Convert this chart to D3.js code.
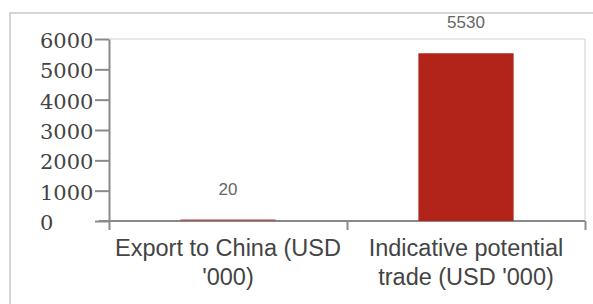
<!DOCTYPE html>
<html>
<head>
<meta charset="utf-8">
<script src="https://cdn.jsdelivr.net/npm/d3@7"></script>
<style>
  body { margin: 0; background: #fff; }
</style>
</head>
<body>
<div id="wrapper"></div>
<script>
const categories = ["Export to China (USD '000)", "Indicative potential trade (USD '000)"];
const labelLines = [["Export to China (USD", "'000)"], ["Indicative potential", "trade (USD '000)"]];
const values = [20, 5530];
const yTicks = [0, 1000, 2000, 3000, 4000, 5000, 6000];

function drawChart() {
  let dimensions = {
    width: 593,
    height: 304,
    margin: { top: 39, left: 109, bottom: 83, right: 8 }
  };
  dimensions.boundedWidth = dimensions.width - dimensions.margin.left - dimensions.margin.right;
  dimensions.boundedHeight = dimensions.height - dimensions.margin.top - dimensions.margin.bottom;

  const svg = d3.select("#wrapper").append("svg")
    .attr("width", dimensions.width)
    .attr("height", dimensions.height);

  // outer frame
  svg.append("rect")
    .attr("x", 10).attr("y", 13)
    .attr("width", 620).attr("height", 320)
    .attr("fill", "none").attr("stroke", "#c8c8c8").attr("stroke-width", 1.5);

  const g = svg.append("g")
    .attr("transform", `translate(${dimensions.margin.left},${dimensions.margin.top})`);

  const xScale = d3.scaleBand()
    .domain(categories)
    .range([0, dimensions.boundedWidth])
    .paddingInner(0.6)
    .paddingOuter(0.3);

  const yScale = d3.scaleLinear()
    .domain([0, 6000])
    .range([dimensions.boundedHeight, 0]);

  // plot border (top + right)
  g.append("path")
    .attr("d", `M0,0H${dimensions.boundedWidth}V${dimensions.boundedHeight}`)
    .attr("fill", "none").attr("stroke", "#cfcfcf").attr("stroke-width", 1);

  // y axis
  const yAxis = g.append("g")
    .call(d3.axisLeft(yScale).tickValues(yTicks).tickSize(14).tickSizeOuter(0).tickFormat(d3.format("d")));
  yAxis.select(".domain").attr("stroke", "#8a8a8a").attr("stroke-width", 2);
  yAxis.selectAll(".tick line").attr("stroke", "#8a8a8a").attr("stroke-width", 2);
  yAxis.selectAll(".tick text")
    .attr("x", -69)
    .attr("dy", "0.4em")
    .attr("text-anchor", "start")
    .attr("font-family", "DejaVu Serif, serif")
    .attr("font-size", 21)
    .attr("fill", "#444");

  // x axis (ticks at band edges)
  const edgeScale = d3.scaleLinear().domain([0, categories.length]).range([0, dimensions.boundedWidth]);
  const xAxis = g.append("g")
    .attr("transform", `translate(0,${dimensions.boundedHeight})`)
    .call(d3.axisBottom(edgeScale).ticks(categories.length).tickSize(9).tickSizeOuter(0).tickFormat(""));
  xAxis.select(".domain").attr("d", `M-10,0H${dimensions.boundedWidth}`)
    .attr("stroke", "#8a8a8a").attr("stroke-width", 2);
  xAxis.selectAll(".tick line").attr("stroke", "#8a8a8a").attr("stroke-width", 2);

  // bars (drawn over the axis line)
  g.selectAll("rect.bar")
    .data(values)
    .enter().append("rect")
    .attr("class", "bar")
    .attr("x", (d, i) => xScale(categories[i]))
    .attr("y", d => Math.min(yScale(d), yScale(0) - 2))
    .attr("width", xScale.bandwidth())
    .attr("height", d => Math.max(2, yScale(0) - yScale(d)))
    .attr("fill", "#b22319")
    .attr("fill-opacity", (d, i) => i === 0 ? 0.45 : 1);

  // value labels
  g.selectAll("text.val")
    .data(values)
    .enter().append("text")
    .attr("class", "val")
    .attr("x", (d, i) => xScale(categories[i]) + xScale.bandwidth() / 2)
    .attr("y", d => yScale(d) - 25)
    .attr("text-anchor", "middle")
    .attr("font-family", "Liberation Sans, Arial, sans-serif")
    .attr("font-size", 17)
    .attr("fill", "#666")
    .text(d => d);

  // category labels
  const catText = g.selectAll("text.cat")
    .data(categories)
    .enter().append("text")
    .attr("class", "cat")
    .attr("x", d => xScale(d) + xScale.bandwidth() / 2)
    .attr("y", dimensions.boundedHeight + 35)
    .attr("text-anchor", "middle")
    .attr("font-family", "Liberation Sans, Arial, sans-serif")
    .attr("font-size", 23.5)
    .attr("fill", "#444");
  catText.each(function (d, i) {
    const t = d3.select(this);
    labelLines[i].forEach((line, j) => {
      t.append("tspan")
        .attr("x", xScale(d) + xScale.bandwidth() / 2)
        .attr("dy", j === 0 ? 0 : 29)
        .text(line);
    });
  });
}

drawChart();
</script>
</body>
</html>
